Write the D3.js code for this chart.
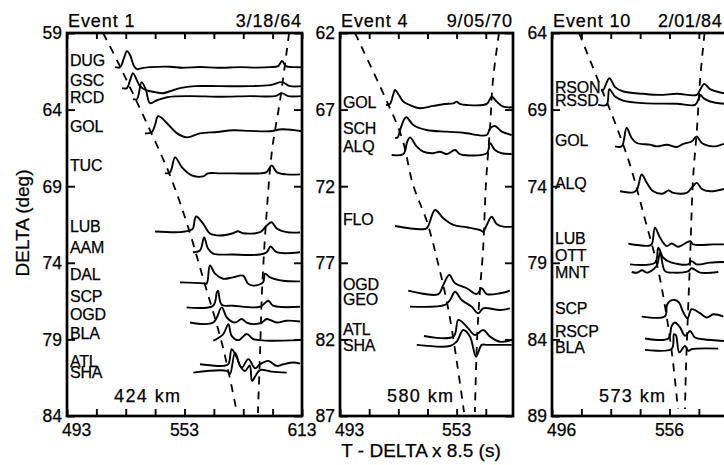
<!DOCTYPE html>
<html><head><meta charset="utf-8">
<script src="https://cdn.jsdelivr.net/npm/d3@7"></script>
<style>
body{margin:0;background:#fff}
svg{display:block}
text{font-family:"Liberation Sans",Arial,Helvetica,sans-serif;fill:#000;stroke:#000;stroke-width:0.25px}
</style>
</head><body>
<svg id="chart" width="724" height="465"></svg>
<script>
// ---------------- DATA ----------------
const eventNames = ["Event 1", "Event 4", "Event 10"];
const eventDates = ["3/18/64", "9/05/70", "2/01/84"];
const depthLabels = ["424 km", "580 km", "573 km"];
const timeDomains = [[493, 613], [493, 582], [496, 616]];
const deltaDomains = [[59, 84], [62, 87], [64, 89]];
const timeTickLabels = [[493, 553, 613], [493, 553], [496, 556]];
const xTitle = "T - DELTA x 8.5 (s)";
const yTitle = "DELTA (deg)";

// Event 1
const stations1 = ["DUG","GSC","RCD","GOL","TUC","LUB","AAM","DAL","SCP","OGD","BLA","ATL","SHA"];
const stationDelta1 = [60.77,62.08,63.19,65.09,67.64,71.63,72.99,74.77,76.19,77.39,78.57,80.4,81.17];
const traces1 = [
 [[517.5,61.23],[520.1,61.23],[522.1,60.64],[523.6,60.18],[525.2,60.44],[527.2,61.16],[528.7,61.36],[531.3,61.29],[535.4,61.23],[545.6,61.2],[552,61.27],[560.9,61.22],[570,61.27],[581.4,61.23],[590,61.26],[596.7,61.23],[600.8,61.16],[602.8,60.83],[604.8,61.16],[609.4,61.23],[613,61.23]],
 [[521.1,62.6],[523.6,62.6],[525.2,62.08],[526.7,61.62],[528.2,61.95],[530.3,62.47],[533.3,62.73],[537.9,62.86],[542,62.93],[545.6,62.8],[550.7,62.6],[558.4,62.47],[571.1,62.47],[586.5,62.47],[596.7,62.4],[602.8,62.21],[606.9,62.47],[613,62.47]],
 [[526.7,63.32],[528.7,63.32],[531.1,62.21],[533.3,62.73],[535.4,63.58],[539,63.39],[544.1,63.19],[555.8,63.12],[571.1,63.16],[586.5,63.12],[599.2,63.12],[602.8,62.93],[605.9,63.12],[613,63.12]],
 [[532.8,65.55],[536.3,65.48],[537.9,65.02],[539.5,64.43],[541.5,64.56],[544.1,64.89],[549.2,65.55],[554.3,65.81],[560.9,65.55],[569.6,65.46],[577.8,65.35],[586.5,65.39],[596.7,65.41],[602.8,65.28],[613,65.41]],
 [[543,68.16],[545.6,68.1],[548.2,67.12],[551.6,67.75],[556.7,68.29],[562.5,68.36],[565,68.16],[571.1,68.16],[577.8,68.16],[591.6,68.16],[595,68.08],[597.5,67.64],[600.1,68.08],[605.2,68.23],[612,68.23]],
 [[537.9,71.96],[550.7,72.0],[555.8,71.89],[557.3,71.76],[558.9,70.98],[562.5,71.44],[566,72.09],[571.1,72.22],[577.8,72.07],[580.3,71.94],[582.9,72.07],[591.6,72.0],[595,71.57],[597.5,71.35],[600.1,71.76],[605.2,72.0],[612,72.02]],
 [[557.3,73.31],[560.9,73.2],[563,72.35],[565,73.07],[567.6,73.4],[577.8,73.46],[591.6,73.46],[595,73.31],[597,72.94],[600.1,73.31],[612,73.31]],
 [[550.7,75.28],[562.5,75.34],[564.3,75.36],[566,74.18],[568.6,74.71],[572.7,75.04],[577.8,74.95],[582.9,74.84],[585.4,75.36],[588,75.49],[593.1,75.28],[594.1,74.71],[596.7,74.95],[603.3,75.17],[612,75.21]],
 [[554.1,76.91],[567.6,76.8],[569.5,75.93],[570.1,75.82],[572,76.74],[577.8,76.8],[591.6,76.87],[595.8,76.48],[598.2,76.8],[612,76.87]],
 [[555.8,77.9],[567.7,77.9],[572,76.91],[574.6,77.57],[578.8,77.9],[582.2,77.67],[584.8,77.9],[588.1,78.0],[592.4,77.9],[595,77.67],[600.1,77.9],[605.2,77.78],[612,77.83]],
 [[567.7,79.09],[572.8,78.65],[575.4,78.0],[577.1,78.77],[580.5,79.05],[584.8,78.65],[588.1,78.98],[591.6,79.05],[596.7,79.09],[612,79.05]],
 [[560.9,80.62],[572.8,80.73],[575.4,80.62],[577.1,79.64],[579.7,80.19],[582.2,80.84],[585.6,80.29],[589,80.88],[591.6,80.62],[595.8,80.4],[600.1,80.73],[603.5,80.62],[608.6,80.51],[612,80.58]],
 [[557.5,81.17],[574.6,81.06],[576.2,81.27],[578.8,79.86],[581.4,80.73],[583.9,81.06],[586.3,80.7],[587.5,81.71],[589.5,81.32],[591.6,81.0],[597.5,81.1],[605.2,81.17]]
];
const arrivals1 = [
 [[511.4,59],[519,60.9],[535.4,65.35],[545.6,68.3],[554.3,71.45],[562.5,75],[572.7,79.55],[579.8,83.8]],
 [[606.4,59],[601.8,63.39],[597.7,66.66],[594.6,71.37],[592.6,75.82],[591.6,79.75],[590.5,83.8]]
];

// Event 4
const stations2 = ["GOL","SCH","ALQ","FLO","OGD","GEO","ATL","SHA"];
const stationDelta2 = [66.54,68.23,69.38,74.14,78.38,79.36,81.32,82.36];
const traces2 = [
 [[516.7,66.7],[518.7,66.63],[520.3,66.05],[521.3,65.72],[523.3,66.05],[525.6,66.48],[530,66.76],[534.2,66.91],[541,66.76],[547,66.63],[551.3,66.59],[553,66.48],[554.7,66.63],[558.2,66.7],[568.5,66.63],[571,66.16],[573.6,66.48],[577,66.81],[582,66.85]],
 [[521.3,68.87],[522.8,68.79],[523.9,68.33],[527,67.5],[530.7,68.0],[537.6,68.33],[547.9,68.44],[556.4,68.51],[568.5,68.66],[570.2,68.22],[572.7,68.07],[576.2,68.44],[581.3,68.66]],
 [[519.6,69.96],[525.6,69.9],[527.6,69.09],[529,68.81],[532.5,69.42],[535.8,69.75],[541,69.85],[544.4,69.75],[547.9,69.9],[552.2,69.64],[554.7,69.9],[568.5,69.85],[570.2,69.2],[572.7,69.64],[576.2,69.85],[581.3,69.9]],
 [[521.3,74.6],[534.2,74.81],[537.6,74.75],[541.9,73.55],[546.1,74.09],[551.3,74.53],[558.2,74.68],[565,74.86],[566.7,74.97],[568.5,74.53],[571,73.99],[573.6,74.47],[577,74.64],[581.8,74.64]],
 [[528.1,78.82],[543.6,79.04],[546.1,78.45],[549.2,77.8],[552.2,78.34],[558.2,78.66],[563.3,79.04],[565.9,78.66],[568.5,79.04],[575.3,78.99],[580.4,78.82]],
 [[529,79.86],[547,79.75],[549.6,79.43],[552.2,78.89],[555.6,79.43],[560.7,79.86],[564.1,80.3],[566.7,79.97],[575.3,80.08],[580.4,79.97]],
 [[536.2,81.78],[551.3,81.82],[553.9,80.73],[558.2,81.17],[562.4,81.71],[566.7,81.39],[570.2,81.82],[575.3,82.15],[581.3,82.04]],
 [[532.5,82.36],[549.6,82.43],[553,82.15],[556.4,81.39],[559.9,81.82],[563,83.13],[565.9,82.36],[568.5,82.36],[581.3,82.36]]
];
const arrivals2 = [
 [[500.7,62],[516.1,66.18],[524.9,68.85],[530.6,71.92],[537.8,74.34],[543.4,77.01],[548.6,79.95],[553.2,83.54],[556.8,86.74]],
 [[574.8,62],[571.7,65.07],[570.2,68.14],[568.1,71.79],[566.6,76.16],[565,78.77],[563.5,82.04],[562.4,86.74]]
];

// Event 10
const stations3 = ["RSON","RSSD","GOL","ALQ","LUB","OTT","MNT","SCP","RSCP","BLA"];
const stationDelta3 = [67.53,68.36,71.03,73.83,77.38,78.52,79.59,81.97,83.47,84.54];
const traces3 = [
 [[521,67.78],[522.2,67.71],[525.3,66.95],[528.2,67.53],[532.4,67.82],[542.6,67.97],[551.2,68.04],[559.7,67.97],[569.9,68.04],[571.6,67.71],[573.8,67.32],[576.7,67.66],[583.8,67.93]],
 [[519.6,68.69],[523.9,68.69],[525.3,67.67],[528.2,68.15],[532.4,68.41],[542.6,68.58],[559.7,68.62],[569,68.69],[570.7,68.36],[571.9,68.04],[573.3,68.25],[576.7,68.47],[583.8,68.62]],
 [[528.2,71.4],[531.6,71.4],[534.1,70.2],[536.7,70.86],[539.3,71.18],[546,71.29],[549.5,71.4],[554.6,71.29],[559.7,71.44],[563.1,71.23],[567.3,71.08],[569.9,70.75],[572.5,71.18],[578.4,71.4],[583.8,71.23]],
 [[530.7,74.33],[537.5,74.4],[539.4,74.22],[541.8,73.24],[544.4,73.78],[547.7,74.33],[552.8,74.48],[555.4,74.27],[557.9,74.44],[564.8,74.44],[567.3,74.11],[569.9,73.78],[572.5,74.18],[576.7,74.33],[583.8,74.18]],
 [[535,77.76],[546,77.87],[547.1,77.74],[548.6,76.71],[551.2,77.37],[554.6,77.91],[557.1,77.74],[560.5,77.95],[566.5,77.59],[568.2,77.8],[578.4,77.8],[583.8,77.8]],
 [[535.8,79.1],[548.6,78.99],[550.3,78.02],[552.8,78.67],[557.1,78.99],[565.6,79.1],[567.3,78.89],[569.9,79.1],[576.7,78.99],[583.8,78.95]],
 [[536.7,79.6],[539.4,79.65],[542,79.49],[544.5,79.64],[547.7,79.43],[549.6,79.17],[551.2,78.34],[553.7,79.54],[557.9,79.64],[565.6,79.54],[567.3,79.36],[571.6,79.64],[580.9,79.6]],
 [[541.8,82.51],[553.7,82.49],[554.7,81.77],[556.3,81.49],[558.8,81.43],[560.9,81.6],[563.1,82.25],[565.2,82.62],[567.3,82.03],[571.6,82.29],[575,82.57],[578.4,82.36],[583.5,82.51]],
 [[543.5,83.94],[555.4,83.94],[557.1,83.12],[558.8,82.9],[561.4,83.22],[563.9,83.77],[566.5,83.45],[569,83.88],[573.3,83.99],[583.8,84.1]],
 [[543.5,84.68],[557.1,84.62],[558.3,83.66],[559.3,83.73],[561,84.85],[563.9,84.42],[565.6,84.75],[567.3,84.64],[580.9,84.6]]
];
const arrivals3 = [
 [[509.8,64],[520.5,67.39],[528.2,69.86],[535.8,72.59],[543.5,76.17],[549.6,79.1],[553.7,81.84],[557.3,84.96],[560.3,88.54]],
 [[573.9,64],[571.6,67.06],[570.1,70.12],[568,73.57],[566.5,78.78],[565.5,82.03],[564.4,85.94],[563.9,88.54]]
];

// ---------------- LAYOUT ----------------
const panelLeft = [67, 340, 552];
const panelRight = [302, 513, 787];
const plotTop = 33, plotBottom = 416;
const stationsAll = [stations1, stations2, stations3];
const stationDeltaAll = [stationDelta1, stationDelta2, stationDelta3];
const tracesAll = [traces1, traces2, traces3];
const arrivalsAll = [arrivals1, arrivals2, arrivals3];
const dateX = [302, 513, null];

const svg = d3.select("#chart");
svg.append("rect").attr("width", 724).attr("height", 465).attr("fill", "#fff").attr("stroke", "none");

for (let i = 0; i < 3; i++) {
  const x = d3.scaleLinear().domain(timeDomains[i]).range([panelLeft[i], panelRight[i]]);
  const y = d3.scaleLinear().domain(deltaDomains[i]).range([plotTop, plotBottom]);
  const g = svg.append("g");
  const tTicks = d3.range(timeDomains[i][0], timeDomains[i][1] + 0.01, 15);
  const dTicks = d3.range(deltaDomains[i][0], deltaDomains[i][1] + 0.01, 5);

  const styleAxis = sel => {
    sel.select(".domain").remove();
    sel.selectAll(".tick line").attr("stroke", "#000").attr("stroke-width", 1.9);
    sel.selectAll(".tick text").remove();
  };
  g.append("g").attr("transform", `translate(0,${plotTop})`)
    .call(d3.axisTop(x).tickValues(tTicks).tickSize(-6).tickSizeOuter(0)).call(styleAxis);
  g.append("g").attr("transform", `translate(0,${plotBottom})`)
    .call(d3.axisBottom(x).tickValues(tTicks).tickSize(-7).tickSizeOuter(0)).call(styleAxis);
  g.append("g").attr("transform", `translate(${panelLeft[i]},0)`)
    .call(d3.axisLeft(y).tickValues(dTicks).tickSize(-8).tickSizeOuter(0)).call(styleAxis);
  g.append("g").attr("transform", `translate(${panelRight[i]},0)`)
    .call(d3.axisRight(y).tickValues(dTicks).tickSize(-8).tickSizeOuter(0)).call(styleAxis);

  // frame
  g.append("rect").attr("x", panelLeft[i]).attr("y", plotTop)
    .attr("width", panelRight[i] - panelLeft[i]).attr("height", plotBottom - plotTop)
    .attr("fill", "none").attr("stroke", "#000").attr("stroke-width", 2.7);

  // y tick labels
  g.selectAll(".ylab").data(dTicks).join("text")
    .attr("x", panelLeft[i] - 5).attr("y", d => y(d)).attr("dy", "0.36em")
    .attr("text-anchor", "end").style("font-size", "17.5px").text(d => d);

  // x tick labels
  g.selectAll(".xlab").data(timeTickLabels[i]).join("text")
    .attr("x", (d, k) => k === 0 ? x(d) - 5 : x(d))
    .attr("y", 436)
    .attr("text-anchor", (d, k) => k === 0 ? "start" : "middle")
    .style("font-size", "17.5px").text(d => d);

  // event title and date
  g.append("text").attr("x", panelLeft[i] + 1).attr("y", 27)
    .style("font-size", "18px").style("letter-spacing", "0.9px").text(eventNames[i]);
  if (dateX[i] !== null) {
    g.append("text").attr("x", dateX[i]).attr("y", 27).attr("text-anchor", "end")
      .style("font-size", "18px").style("letter-spacing", "0.9px").text(eventDates[i]);
  } else {
    g.append("text").attr("x", 658).attr("y", 27)
      .style("font-size", "18px").style("letter-spacing", "0.6px").text(eventDates[i]);
  }

  // depth label
  g.append("text").attr("x", panelLeft[i] + 47).attr("y", 402)
    .style("font-size", "18px").style("letter-spacing", "1.4px").text(depthLabels[i]);

  // arrival curves (dashed)
  const dl = d3.line().x(d => x(d[0])).y(d => y(d[1])).curve(d3.curveCatmullRom.alpha(0.5));
  g.selectAll(".arr").data(arrivalsAll[i]).join("path")
    .attr("d", dl).attr("fill", "none").attr("stroke", "#000")
    .attr("stroke-width", 1.8).attr("stroke-dasharray", "8,7");

  // seismograms
  const tl = d3.line().x(d => x(d[0])).y(d => y(d[1])).curve(d3.curveCatmullRom.alpha(0.5));
  g.selectAll(".trace").data(tracesAll[i]).join("path")
    .attr("d", tl).attr("fill", "none").attr("stroke", "#000")
    .attr("stroke-width", 1.9).attr("stroke-linejoin", "round");

  // station labels
  g.selectAll(".stn").data(stationsAll[i]).join("text")
    .attr("x", panelLeft[i] + 3).attr("y", (d, k) => y(stationDeltaAll[i][k]))
    .attr("dy", "0.36em").style("font-size", "16px").style("letter-spacing", "-0.2px").text(d => d);
}

// axis titles
svg.append("text").attr("transform", "translate(29,223) rotate(-90)")
  .attr("text-anchor", "middle").style("font-size", "19px").text(yTitle);
svg.append("text").attr("x", 421).attr("y", 457)
  .attr("text-anchor", "middle").style("font-size", "19px").text(xTitle);
</script>
</body></html>
